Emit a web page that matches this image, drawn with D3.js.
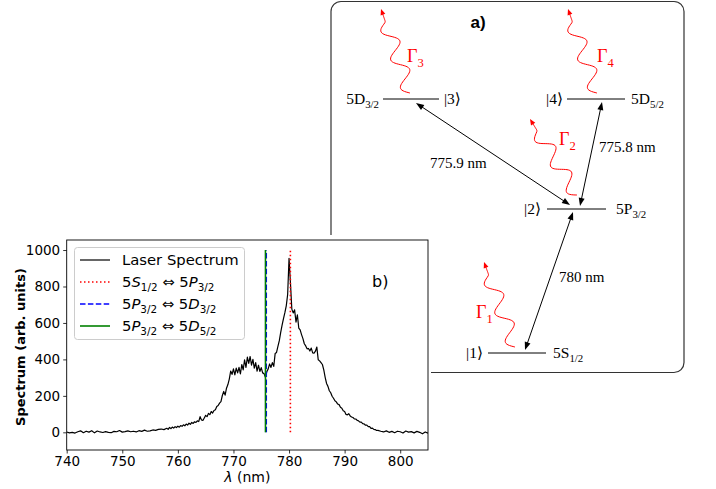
<!DOCTYPE html>
<meta charset="utf-8">
<style>
    body { margin: 0; background: #fff; }
    svg { display: block; }
    .axis text { font-family: "DejaVu Sans"; font-size: 13.5px; fill: #000; }
    .axis line { stroke: #000; stroke-width: 0.8; }
    .serif { font-family: "Liberation Serif", "DejaVu Serif", serif; font-size: 15px; }
</style>
<body>
<script src="https://d3js.org/d3.v7.min.js"></script>
<script>

// spectrum: wavelength (nm) and intensity (arb. units)
var wavelengths = [
    740, 740.5, 741, 741.5, 742, 742.5, 743, 743.5, 744, 744.5, 745, 745.5,
    746, 746.5, 747, 747.5, 748, 748.5, 749, 749.5, 750, 750.5, 751, 751.5,
    752, 752.5, 753, 753.5, 754, 754.5, 755, 755.5, 756, 756.5, 757, 757.5,
    758, 758.25, 758.5, 758.75, 759, 759.25, 759.5, 759.75,
    760, 760.25, 760.5, 760.75, 761, 761.25, 761.5, 761.75,
    762, 762.25, 762.5, 762.75, 763, 763.25, 763.5, 763.75,
    764, 764.25, 764.5, 764.75, 765, 765.25, 765.5, 765.75,
    766, 766.25, 766.5, 766.75, 767, 767.25, 767.5, 767.75,
    768, 768.25, 768.5, 768.75, 769, 769.25, 769.5, 769.75,
    770, 770.25, 770.5, 770.75, 771, 771.25, 771.5, 771.75,
    772, 772.25, 772.5, 772.75, 773, 773.25, 773.5, 773.75,
    774, 774.25, 774.5, 774.75, 775, 775.25, 775.5, 775.75,
    776, 776.25, 776.5, 776.75, 777, 777.25, 777.5, 777.75,
    778, 778.25, 778.5, 778.75, 779, 779.25, 779.5, 779.75,
    780, 780.25, 780.5, 780.75, 781, 781.25, 781.5, 781.75,
    782, 782.25, 782.5, 782.75, 783, 783.25, 783.5, 783.75,
    784, 784.25, 784.5, 784.75, 785, 785.25, 785.5, 785.75,
    786, 786.25, 786.5, 786.75, 787, 787.25, 787.5, 787.75,
    788, 788.25, 788.5, 788.75, 789, 789.25, 789.5, 789.75,
    790, 790.25, 790.5, 790.75, 791, 791.25, 791.5, 791.75,
    792, 792.25, 792.5, 792.75, 793, 793.25, 793.5, 793.75,
    794, 794.25, 794.5, 794.75, 795, 795.25, 795.5, 795.75,
    796, 796.5, 797, 797.5, 798, 798.5, 799, 799.5, 800, 800.5,
    801, 801.5, 802, 802.5, 803, 803.5, 804, 804.5, 805
];
var spectrum = [
    2, -3, 0, -4, 3, 8, -2, 6, 1, 9, -3, 7,
    2, -1, 4, 0, -2, 5, 3, 10, 1, 4, 8, 3,
    6, 2, 9, 5, 12, 6, 8, 13, 11, 16, 18, 15,
    22, 16, 27, 20, 29, 23, 31, 26,
    34, 28, 37, 33, 41, 36, 45, 40,
    50, 44, 54, 49, 58, 54, 63, 59,
    86, 68, 65, 79, 93, 86, 104, 97,
    114, 106, 120, 124, 142, 147, 160, 168,
    202, 224, 204, 242, 262, 292, 336, 318,
    348, 315, 352, 326, 356, 320, 372, 342,
    398, 356, 412, 378, 416, 368, 400, 352,
    382, 336, 368, 334, 355, 326, 322, 302,
    332, 348, 375, 356, 382, 362, 432, 438,
    472, 503, 548, 588, 624, 656, 694, 756,
    955, 820, 676, 655, 672, 605, 645, 572,
    562, 536, 514, 486, 474, 458, 460, 446,
    462, 436, 434, 445, 468, 398, 392, 382,
    372, 342, 302, 268, 252, 228, 217, 198,
    187, 173, 167, 155, 152, 137, 132, 118,
    114, 98, 96, 102, 90, 84, 81, 74,
    73, 66, 63, 56, 56, 48, 46, 39,
    39, 31, 31, 22, 23, 16, 15, 10,
    11, 6, 2, 8, 0, 5, -2, 6, 3, -4,
    7, 1, 4, -3, 5, 0, -8, 2, -5
];

// atomic transitions marked on the spectrum (nm)
var transitionLambda = [780.24, 775.9, 775.76];
var transitionTop = 1000;

var xTicks = [740, 750, 760, 770, 780, 790, 800];
var yTicks = [0, 200, 400, 600, 800, 1000];

// legend text: [text, flags] pieces, i = italic, s = subscript
var legendLabels = [
    [["Laser Spectrum"]],
    [["5"], ["S", "i"], ["1/2", "s"], [" \u21D4 5"], ["P", "i"], ["3/2", "s"]],
    [["5"], ["P", "i"], ["3/2", "s"], [" \u21D4 5"], ["D", "i"], ["3/2", "s"]],
    [["5"], ["P", "i"], ["3/2", "s"], [" \u21D4 5"], ["D", "i"], ["5/2", "s"]]
];

var arrowLabels = ["775.9 nm", "775.8 nm", "780 nm"];

var W = 716, H = 489;
var svg = d3.select("body").append("svg")
    .attr("width", W).attr("height", H);

// ---------------- panel a) : level scheme ----------------
var pa = svg.append("g");

pa.append("rect")
    .attr("x", 331).attr("y", 1.5)
    .attr("width", 353).attr("height", 371)
    .attr("rx", 10)
    .attr("fill", "none")
    .attr("stroke", "#333")
    .attr("stroke-width", 1.2);

pa.append("text")
    .attr("x", 478).attr("y", 28)
    .attr("text-anchor", "middle")
    .style("font-family", "Liberation Sans, Arial")
    .style("font-weight", "bold")
    .style("font-size", "17px")
    .text("a)");

// energy levels
var levels = [
    { x1: 383, x2: 439, y: 99 },
    { x1: 567, x2: 625, y: 99 },
    { x1: 547, x2: 606, y: 209 },
    { x1: 488, x2: 546, y: 353 }
];
pa.selectAll("line.level").data(levels).enter().append("line")
    .attr("class", "level")
    .attr("x1", d => d.x1).attr("x2", d => d.x2)
    .attr("y1", d => d.y).attr("y2", d => d.y)
    .attr("stroke", "#000").attr("stroke-width", 1);

// text with subscripts
function subText(g, x, y, anchor, parts, size, color) {
    var t = g.append("text")
        .attr("x", x).attr("y", y)
        .attr("text-anchor", anchor)
        .attr("fill", color || "#000")
        .style("font-size", size + "px");
    var shifted = false;
    parts.forEach(function (p) {
        var s = t.append("tspan").text(p[0]);
        var f = p[1] || "";
        if (f.indexOf("i") >= 0) s.style("font-style", "italic");
        if (f.indexOf("s") >= 0) {
            s.style("font-size", (size * 0.7) + "px");
            if (!shifted) { s.attr("dy", size * 0.25); shifted = true; }
        } else if (shifted) {
            s.attr("dy", -size * 0.25); shifted = false;
        }
    });
    return t;
}

var serif = pa.append("g").attr("class", "serif");
subText(serif, 379, 104, "end", [["5D"], ["3/2", "s"]], 15.5).attr("class", "serif");
subText(serif, 444, 104, "start", [["|3\u27E9"]], 15.5).attr("class", "serif");
subText(serif, 563, 104, "end", [["|4\u27E9"]], 15.5).attr("class", "serif");
subText(serif, 631, 104, "start", [["5D"], ["5/2", "s"]], 15.5).attr("class", "serif");
subText(serif, 541, 214, "end", [["|2\u27E9"]], 15.5).attr("class", "serif");
subText(serif, 616, 214, "start", [["5P"], ["3/2", "s"]], 15.5).attr("class", "serif");
subText(serif, 483, 358, "end", [["|1\u27E9"]], 15.5).attr("class", "serif");
subText(serif, 553, 358, "start", [["5S"], ["1/2", "s"]], 15.5).attr("class", "serif");

// double headed pump arrows
function head(g, tx, ty, fx, fy, len, half, color) {
    var dx = tx - fx, dy = ty - fy, L = Math.hypot(dx, dy);
    var ux = dx / L, uy = dy / L;
    var bx = tx - ux * len, by = ty - uy * len;
    g.append("path")
        .attr("d", "M" + tx + "," + ty +
            "L" + (bx - uy * half) + "," + (by + ux * half) +
            "L" + (bx + uy * half) + "," + (by - ux * half) + "Z")
        .attr("fill", color);
}
var pumps = [
    { a: [416, 103], b: [570, 205] },
    { a: [602, 102], b: [580, 206] },
    { a: [573, 212], b: [525, 350] }
];
pumps.forEach(function (p) {
    var dx = p.b[0] - p.a[0], dy = p.b[1] - p.a[1], L = Math.hypot(dx, dy);
    var ux = dx / L, uy = dy / L;
    pa.append("line")
        .attr("x1", p.a[0] + ux * 6).attr("y1", p.a[1] + uy * 6)
        .attr("x2", p.b[0] - ux * 6).attr("y2", p.b[1] - uy * 6)
        .attr("stroke", "#000").attr("stroke-width", 1);
    head(pa, p.a[0], p.a[1], p.b[0], p.b[1], 8, 3, "#000");
    head(pa, p.b[0], p.b[1], p.a[0], p.a[1], 8, 3, "#000");
});
var arrowLabelPos = [[430, 168], [599, 152], [559, 282]];
arrowLabels.forEach(function (t, i) {
    subText(serif, arrowLabelPos[i][0], arrowLabelPos[i][1], "start", [[t]], 15).attr("class", "serif");
});

// wavy decay arrows
var decays = [
    { a: [410, 93], b: [381, 9], lab: [407, 62], n: "3" },
    { a: [597, 93], b: [568, 9], lab: [597, 62], n: "4" },
    { a: [577, 195], b: [530, 119], lab: [559, 145], n: "2" },
    { a: [515, 347], b: [484, 262], lab: [476, 318], n: "1" }
];
var wline = d3.line().curve(d3.curveBasis);
decays.forEach(function (d) {
    var dx = d.b[0] - d.a[0], dy = d.b[1] - d.a[1], L = Math.hypot(dx, dy);
    var ux = dx / L, uy = dy / L, nx = -uy, ny = ux;
    var pts = [];
    for (var i = 0; i <= 80; i++) {
        var t = i / 80;
        var w = t < 0.88 ? -7.5 * Math.sin(2 * Math.PI * 2.5 * t / 0.88) : 0;
        pts.push([d.a[0] + dx * t * 0.96 + nx * w, d.a[1] + dy * t * 0.96 + ny * w]);
    }
    pa.append("path")
        .attr("d", wline(pts))
        .attr("fill", "none")
        .attr("stroke", "red").attr("stroke-width", 1);
    head(pa, d.b[0], d.b[1], d.a[0], d.a[1], 6, 2.5, "red");
    subText(serif, d.lab[0], d.lab[1], "start", [["\u0393"], [d.n, "s"]], 18, "red").attr("class", "serif");
});

// ---------------- panel b) : spectrum ----------------
svg.append("rect")
    .attr("x", 0).attr("y", 235)
    .attr("width", 431).attr("height", H - 235)
    .attr("fill", "#fff");

var plot = { left: 66.7, right: 428, top: 240, bottom: 450 };
var x = d3.scaleLinear().domain([740, 805]).range([plot.left, plot.right]);
var y = d3.scaleLinear().domain([-97, 1055]).range([plot.bottom, plot.top]);

var pb = svg.append("g");

pb.append("g")
    .attr("class", "axis")
    .attr("transform", "translate(0," + plot.bottom + ")")
    .call(d3.axisBottom(x).tickValues(xTicks).tickSize(3.5).tickPadding(2.5))
    .call(g => g.select(".domain").remove());

pb.append("g")
    .attr("class", "axis")
    .attr("transform", "translate(" + plot.left + ",0)")
    .call(d3.axisLeft(y).tickValues(yTicks).tickFormat(d3.format("d")).tickSize(3.5).tickPadding(3))
    .call(g => g.select(".domain").remove());

pb.append("clipPath").attr("id", "clipb")
    .append("rect")
    .attr("x", plot.left).attr("y", plot.top)
    .attr("width", plot.right - plot.left).attr("height", plot.bottom - plot.top);

var inner = pb.append("g").attr("clip-path", "url(#clipb)");

var specData = wavelengths.map((w, i) => [w, spectrum[i]]);
inner.append("path")
    .datum(specData)
    .attr("d", d3.line().x(d => x(d[0])).y(d => y(d[1])))
    .attr("fill", "none")
    .attr("stroke", "#000")
    .attr("stroke-width", 1.2)
    .attr("stroke-linejoin", "round");

var lineStyles = [
    { color: "red", dash: "1.5,2.5" },
    { color: "blue", dash: "5.5,2.4" },
    { color: "green", dash: null }
];
transitionLambda.forEach(function (l, i) {
    inner.append("line")
        .attr("x1", x(l)).attr("x2", x(l))
        .attr("y1", y(0)).attr("y2", y(transitionTop))
        .attr("stroke", lineStyles[i].color)
        .attr("stroke-width", 1.6)
        .attr("stroke-dasharray", lineStyles[i].dash);
});

// frame
pb.append("rect")
    .attr("x", plot.left).attr("y", plot.top)
    .attr("width", plot.right - plot.left).attr("height", plot.bottom - plot.top)
    .attr("fill", "none")
    .attr("stroke", "#000")
    .attr("stroke-width", 0.9);

// legend
var lg = pb.append("g");
lg.append("rect")
    .attr("x", 74.5).attr("y", 247.5)
    .attr("width", 170).attr("height", 92)
    .attr("rx", 3)
    .attr("fill", "#fff").attr("fill-opacity", 0.8)
    .attr("stroke", "#ccc").attr("stroke-width", 1);
var legendStyles = [{ color: "#000", dash: null, w: 1.2 }].concat(lineStyles.map(s => ({ color: s.color, dash: s.dash, w: 1.6 })));
var rowY = [260, 282, 304, 326];
legendLabels.forEach(function (lab, i) {
    lg.append("line")
        .attr("x1", 80).attr("x2", 110)
        .attr("y1", rowY[i]).attr("y2", rowY[i])
        .attr("stroke", legendStyles[i].color)
        .attr("stroke-width", legendStyles[i].w)
        .attr("stroke-dasharray", legendStyles[i].dash);
    subText(lg, 122, rowY[i] + 5, "start", lab, 14.8)
        .style("font-family", "DejaVu Sans");
});

pb.append("text")
    .attr("x", 372).attr("y", 287)
    .style("font-family", "DejaVu Sans")
    .style("font-size", "16px")
    .text("b)");

pb.append("text")
    .attr("transform", "translate(25,347) rotate(-90)")
    .attr("text-anchor", "middle")
    .style("font-family", "DejaVu Sans")
    .style("font-weight", "bold")
    .style("font-size", "13px")
    .text("Spectrum (arb. units)");

var xl = pb.append("text")
    .attr("x", (plot.left + plot.right) / 2).attr("y", 482)
    .attr("text-anchor", "middle")
    .style("font-family", "DejaVu Sans")
    .style("font-size", "14px");
xl.append("tspan").style("font-style", "italic").text("\u03BB");
xl.append("tspan").text(" (nm)");

</script>
</body>
